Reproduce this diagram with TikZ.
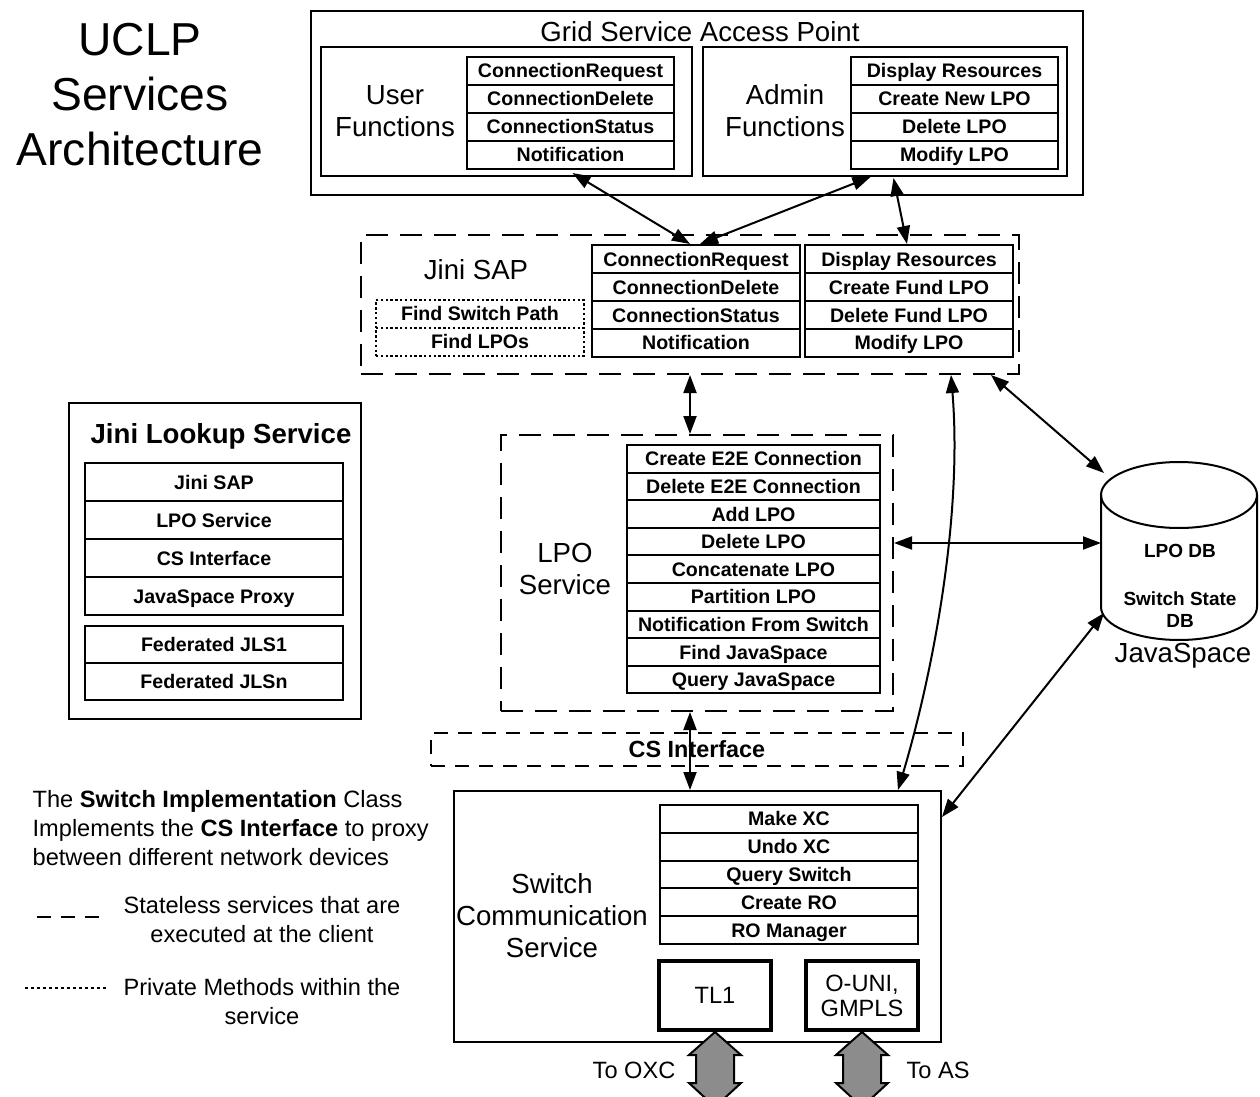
\documentclass[tikz,border=0pt]{standalone}
\usepackage{fontspec}
\setmainfont{Liberation Sans}
\usetikzlibrary{arrows.meta,positioning,calc}

\newcommand{\labfont}{\fontsize{13.8}{16}\selectfont}
\newcommand{\smlabfont}{\fontsize{11.8}{12.5}\selectfont}
\newcommand{\rowfont}{\bfseries\fontsize{9.8}{11}\selectfont}
\newcommand{\legfont}{\fontsize{11.8}{14.5}\selectfont}

\begin{document}
\begin{tikzpicture}[x=0.5pt,y=-0.5pt,line width=1pt,
  >={Triangle[length=9pt,width=6.5pt]},
  box/.style={draw,inner sep=0pt},
  dashbox/.style={draw,dash pattern=on 11pt off 6pt,inner sep=0pt},
  dotbox/.style={dash pattern=on 1.2pt off 1.2pt,line width=0.8pt},
  row/.style={draw,minimum height=14pt,inner sep=0pt,text height=7.8pt,text depth=0.8pt,font=\rowfont},
  lab/.style={align=center,font=\labfont},
  leg/.style={align=center,font=\legfont}]

\useasboundingbox (0,0) rectangle (1260,1097);

\node[lab,font=\fontsize{23.1}{27.5}\selectfont] (title) at (140,95) {UCLP\\Services\\Architecture};

% grid service access point
\node[box,minimum width=386pt,minimum height=92pt] (gsap) at (697,103) {};
\node[lab] (gsaptxt) at (700,32) {Grid Service Access Point};
\node[box,minimum width=185.5pt,minimum height=64.5pt] (userf) at (506.5,111.5) {};
\node[lab] (usertxt) at (395,111) {User\\Functions};
\foreach \t [count=\i] in {ConnectionRequest,ConnectionDelete,ConnectionStatus,Notification}
  \node[row,minimum width=103.5pt] (u\i) at (570.5,{43+28*\i}) {\t};
\node[box,minimum width=182pt,minimum height=64.5pt] (adminf) at (885,111.5) {};
\node[lab] (admintxt) at (785,111) {Admin\\Functions};
\foreach \t [count=\i] in {Display Resources,Create New LPO,Delete LPO,Modify LPO}
  \node[row,minimum width=103.5pt] (a\i) at (954.5,{43+28*\i}) {\t};

% jini sap
\node[dashbox,minimum width=329pt,minimum height=69.5pt] (jsap) at (690,304.5) {};
\node[lab] (jsaptxt) at (476,270) {Jini SAP};
\foreach \t [count=\i] in {Find Switch Path,Find LPOs}
  \node[row,dotbox,minimum width=104pt] (p\i) at (480,{286+28*\i}) {\t};
\foreach \t [count=\i] in {ConnectionRequest,ConnectionDelete,ConnectionStatus,Notification}
  \node[row,minimum width=104pt] (c\i) at (696,{231+28*\i}) {\t};
\foreach \t [count=\i] in {Display Resources,Create Fund LPO,Delete Fund LPO,Modify LPO}
  \node[row,minimum width=104pt] (d\i) at (909,{231+28*\i}) {\t};

% jini lookup service
\node[box,minimum width=146pt,minimum height=158pt] (jls) at (215,561) {};
\node[font=\bfseries\labfont] (jlstxt) at (221,436) {Jini Lookup Service};
\foreach \t [count=\i] in {Jini SAP,LPO Service,CS Interface,JavaSpace Proxy}
  \node[row,minimum width=129pt,minimum height=19pt] (j\i) at (214,{444+38*\i}) {\t};
\foreach \t [count=\i] in {Federated JLS1,Federated JLSn}
  \node[row,minimum width=129pt,minimum height=18.5pt] (f\i) at (214,{607.5+37*\i}) {\t};

% lpo service
\node[dashbox,minimum width=196pt,minimum height=138pt] (lpo) at (697,573) {};
\node[lab] (lpotxt) at (565,569) {LPO\\Service};
\foreach \t [count=\i] in {Create E2E Connection,Delete E2E Connection,Add LPO,Delete LPO,Concatenate LPO,Partition LPO,Notification From Switch,Find JavaSpace,Query JavaSpace}
  \node[row,minimum width=126.5pt,minimum height=13.8pt] (l\i) at (753.5,{431.2+27.6*\i}) {\t};

\node[draw,dash pattern=on 7pt off 5pt,minimum width=266pt,minimum height=16.5pt,inner sep=0pt,
  font=\bfseries\fontsize{11.7}{14}\selectfont] (csi) at (697,749.5) {CS Interface};

% switch communication service
\node[box,minimum width=243.5pt,minimum height=125.5pt] (scs) at (697.5,916.5) {};
\node[lab] (scstxt) at (552,916) {Switch\\Communication\\Service};
\foreach \t [count=\i] in {Make XC,Undo XC,Query Switch,Create RO,RO Manager}
  \node[row,minimum width=129pt,minimum height=13.9pt] (s\i) at (789,{791.1+27.8*\i}) {\t};
\node[box,align=center,font=\smlabfont,line width=2pt,minimum width=56pt,minimum height=34.5pt] (tl1) at (715,995.5) {TL1};
\node[box,align=center,font=\smlabfont,line width=2pt,minimum width=56pt,minimum height=34.5pt] (ouni) at (862,995.5) {O-UNI,\\GMPLS};
\foreach \n in {tl1,ouni}
  \draw[fill=black!45] (\n.south) -- ++(26,23) -- ++(-7,0) -- ++(0,28) -- ++(7,0) -- ++(-26,24)
    -- ++(-26,-24) -- ++(7,0) -- ++(0,-28) -- ++(-7,0) -- cycle;
\node[font=\smlabfont,anchor=east] (oxctxt) at (683,1070) {To OXC};
\node[font=\smlabfont,anchor=west] (astxt) at (899,1070) {To AS};

% javaspace
\draw (1101,495) -- (1101,607) arc[start angle=180,end angle=360,x radius=39pt,y radius=16.5pt] -- (1257,495);
\draw (1179,495) ellipse [x radius=39pt,y radius=16.5pt];
\node[font=\bfseries\fontsize{9.5}{11}\selectfont] (lpodb) at (1180,551) {LPO DB};
\node[font=\bfseries\fontsize{9.5}{11}\selectfont,align=center] (ssdb) at (1180,610) {Switch State\\DB};
\node[lab] (jstxt) at (1183,656) {JavaSpace};
\coordinate (cyltop) at (1104,473);
\coordinate (cylmid) at (1101,543);
\coordinate (cylbot) at (1104,613);

\draw[<->] ($(u4.south)+(2,3)$) -- ($(c1.north)+(-6,0)$);
\draw[<->] ($(a4.south)+(-84,7)$) -- ($(c1.north)+(4,0)$);
\draw[<->] ($(a4.south)+(-61,8)$) -- ($(d1.north)+(-2,0)$);
\draw[<->] (jsap.south) -- (jsap.south |- lpo.north);
\draw[<->] ($(lpo.south)+(-7,0)$) -- ($(scs.north)+(-7.5,0)$);
\draw[<->] ($(jsap.south east)+(-29,0)$) -- (cyltop);
\draw[<->] (lpo.east |- cylmid) -- (cylmid);
\draw[<->] ($(scs.north east)+(0,27)$) -- (cylbot);
\draw[<->] ($(jsap.south east)+(-69,0)$) .. controls +(12,145) and +(33,-110) .. ($(scs.north east)+(-44,0)$);

% legend
\node[leg,align=left,anchor=west] (legtxt) at (25,828) {The \textbf{Switch Implementation} Class\\Implements the \textbf{CS Interface} to proxy\\between different network devices};
\draw[dash pattern=on 7pt off 5pt,line width=1.3pt] (37,917) -- (100,917);
\node[leg] (dashtxt) at (262,920) {Stateless services that are\\executed at the client};
\draw[dash pattern=on 1.5pt off 1.5pt,line width=0.7pt] (25,988) -- (107,988);
\node[leg] (dottxt) at (262,1002) {Private Methods within the\\service};
\end{tikzpicture}
\end{document}
